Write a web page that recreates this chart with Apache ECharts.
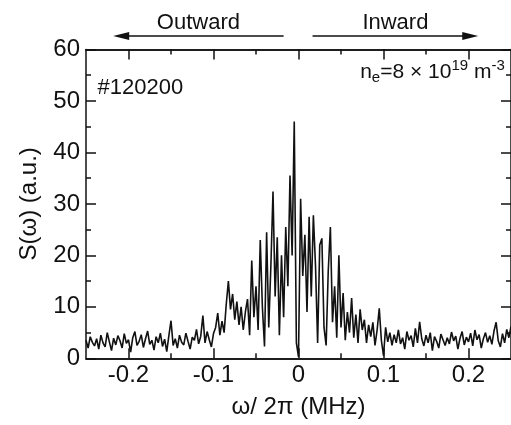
<!DOCTYPE html>
<html>
<head>
<meta charset="utf-8">
<script src="https://cdn.jsdelivr.net/npm/echarts@6/dist/echarts.min.js"></script>
<style>
html,body{margin:0;padding:0;background:#fff;}
#chart{width:511px;height:425px;}
</style>
</head>
<body>
<div id="chart"></div>
<script>
// Sample grid of the spectrum (MHz)
const freqStart = -0.25;
const freqStep = 0.0025;
// Spectral power S(omega), a.u., one value per sample
const spectrum = [
  3.5, 2.0, 4.2, 3.1, 2.4, 3.8, 1.8, 4.5, 3.0, 2.2,
  5.0, 3.2, 1.5, 3.9, 2.6, 4.4, 3.4, 2.0, 4.8, 2.9,
  3.6, 1.2, 4.0, 5.2, 2.5, 3.3, 4.6, 2.1, 3.8, 5.3,
  2.7, 3.5, 1.6, 4.2, 3.0, 4.9, 2.3, 3.7, 1.3, 4.4,
  7.3,
  2.5, 3.8, 2.0, 4.5, 3.1, 2.6, 4.9, 3.3, 1.8, 4.1,
  3.5, 5.6, 2.8, 4.3, 8.3, 3.0, 5.2, 3.6, 2.2, 4.8,
  6.0, 8.8, 4.5, 7.2, 5.0, 10.5, 15.0, 9.5, 12.5, 7.5,
  11.0, 6.5, 10.0, 5.5, 9.0, 11.5, 4.5, 19.0, 8.0, 14.0,
  5.5, 23.0, 10.0, 2.3, 24.5, 6.0, 18.0, 32.4, 12.0, 23.5,
  4.5, 20.0, 8.0, 25.5, 14.0, 35.5, 20.0, 46.0, 3.0, 0.3,
  31.0, 16.0, 24.0, 9.0, 27.5, 12.0, 27.8, 18.0, 3.0, 22.0,
  23.3, 6.0, 2.5, 17.0, 25.5, 7.0, 14.0, 4.0, 20.0, 6.0,
  12.7, 3.5, 9.0, 5.0, 11.7, 4.0, 8.5, 3.0, 9.5, 5.5,
  7.5, 3.0, 6.5, 4.2, 7.0, 2.5, 5.5, 9.7, 3.5, 0.5,
  6.0, 3.2, 5.0, 2.5, 4.6, 3.0, 5.5, 2.8, 4.0, 1.8,
  5.2, 3.5, 4.4, 2.2, 5.8, 3.0, 7.1, 3.8, 2.4, 4.5,
  3.0, 5.0, 1.5, 4.2, 3.3, 2.0, 4.7, 3.6, 2.5, 4.0,
  2.8, 5.1, 3.4, 4.3, 1.8, 3.9, 5.2, 2.6, 4.1, 3.2,
  4.9, 2.4, 5.5, 3.6, 4.6, 2.0, 3.8, 5.0, 3.1, 4.4,
  2.7, 5.3, 7.0, 3.4, 2.2, 4.8, 3.0, 5.6, 4.0, 6.2
];
// Axis ticks
const xMajorTicks = [-0.2, -0.1, 0, 0.1, 0.2];
const xMinorTicks = [-0.15, -0.05, 0.05, 0.15];
const xTickLabels = ['-0.2', '-0.1', '0', '0.1', '0.2'];
const yTickLabels = ['0', '10', '20', '30', '40', '50', '60'];
const shotLabel = '#120200';
const leftArrowLabel = 'Outward';
const rightArrowLabel = 'Inward';

const seriesData = spectrum.map((v, i) => [+(freqStart + i * freqStep).toFixed(4), v]);

const FONT = '"Liberation Sans", Arial, Helvetica, sans-serif';
const X_MIN = -0.25, X_MAX = 0.25;
const TICK_FS = 24;

function xAxisDef(pos, ticks, len, showLabel) {
  return {
    type: 'value', position: pos, min: X_MIN, max: X_MAX,
    axisLine: { show: true, onZero: false, lineStyle: { color: '#111', width: 1.5 } },
    axisTick: { show: true, inside: true, length: len, customValues: ticks, lineStyle: { color: '#111', width: 1.5 } },
    axisLabel: showLabel ? {
      show: true, customValues: xMajorTicks, margin: 5,
      color: '#111', fontFamily: FONT, fontSize: TICK_FS,
      formatter: v => { const k = xMajorTicks.findIndex(t => Math.abs(t - v) < 1e-9); return k >= 0 ? xTickLabels[k] : ''; }
    } : { show: false },
    splitLine: { show: false }
  };
}

const chart = echarts.init(document.getElementById('chart'), null, { renderer: 'canvas' });
const option = {
  animation: false,
  backgroundColor: '#fff',
  grid: { left: 86, top: 49.5, right: -8.3, bottom: 66.7, containLabel: false },
  xAxis: [
    Object.assign(xAxisDef('bottom', xMajorTicks, 10, true), {
      name: 'ω/ 2π (MHz)', nameLocation: 'middle', nameGap: 37,
      nameTextStyle: { color: '#111', fontFamily: FONT, fontSize: 24 }
    }),
    xAxisDef('bottom', xMinorTicks, 5, false),
    xAxisDef('top', xMajorTicks, 10, false),
    xAxisDef('top', xMinorTicks, 5, false)
  ],
  yAxis: [
    {
      type: 'value', position: 'left', min: 0, max: 60, interval: 10,
      name: 'S(ω) (a.u.)', nameLocation: 'middle', nameGap: 45,
      nameTextStyle: { color: '#111', fontFamily: FONT, fontSize: 24 },
      axisLine: { show: true, onZero: false, lineStyle: { color: '#111', width: 1.5 } },
      axisTick: { show: true, inside: true, length: 10, lineStyle: { color: '#111', width: 1.5 } },
      minorTick: { show: true, splitNumber: 2, length: 5, lineStyle: { color: '#111', width: 1.5 } },
      axisLabel: { color: '#111', fontFamily: FONT, fontSize: TICK_FS, margin: 6,
        formatter: v => yTickLabels[Math.round(v / 10)] },
      splitLine: { show: false }, minorSplitLine: { show: false }
    },
    {
      type: 'value', position: 'right', min: 0, max: 60, interval: 10,
      axisLine: { show: true, onZero: false, lineStyle: { color: '#111', width: 1.5 } },
      axisTick: { show: true, inside: true, length: 10, lineStyle: { color: '#111', width: 1.5 } },
      minorTick: { show: true, splitNumber: 2, length: 5, lineStyle: { color: '#111', width: 1.5 } },
      axisLabel: { show: false },
      splitLine: { show: false }, minorSplitLine: { show: false }
    }
  ],
  series: [{
    type: 'line', data: seriesData, xAxisIndex: 0, yAxisIndex: 0,
    showSymbol: false, symbol: 'none', smooth: false,
    lineStyle: { color: '#111', width: 1.6 }
  }]
};
chart.setOption(option);

// Annotations placed through the axes' own scales
const px = v => chart.convertToPixel({ xAxisIndex: 0 }, v);
const py = v => chart.convertToPixel({ yAxisIndex: 0 }, v);
const arrowY = 36;
function arrow(x1, x2) {
  const dir = x2 > x1 ? 1 : -1;
  return [
    { type: 'line', shape: { x1: x1, y1: arrowY, x2: x2 - dir * 10, y2: arrowY }, style: { stroke: '#111', lineWidth: 1.3 } },
    { type: 'polygon', shape: { points: [[x2, arrowY], [x2 - dir * 16, arrowY - 4], [x2 - dir * 16, arrowY + 4]] }, style: { fill: '#111' } }
  ];
}
const oL = px(-0.218), oR = px(-0.0175), iL = px(0.0165), iR = px(0.2115);
chart.setOption({
  graphic: [
    ...arrow(oR, oL),
    ...arrow(iL, iR),
    { type: 'text', x: (oL + oR) / 2, y: 23, style: { text: leftArrowLabel, fill: '#111', font: '22px ' + FONT, align: 'center', verticalAlign: 'middle' } },
    { type: 'text', x: (iL + iR) / 2, y: 23, style: { text: rightArrowLabel, fill: '#111', font: '22px ' + FONT, align: 'center', verticalAlign: 'middle' } },
    { type: 'text', x: px(-0.2365), y: py(52.6), style: { text: shotLabel, fill: '#111', font: '22px ' + FONT, align: 'left', verticalAlign: 'middle' } },
    { type: 'text', x: px(0.0725), y: py(55.6), style: {
        text: '{n|n}{s|e}{n|=8 × 10}{p|19}{n| m}{p|-3}',
        align: 'left', verticalAlign: 'middle',
        rich: {
          n: { fontFamily: FONT, fontSize: 21, fill: '#111', color: '#111' },
          s: { fontFamily: FONT, fontSize: 15, fill: '#111', color: '#111', padding: [11, 0, 0, 0] },
          p: { fontFamily: FONT, fontSize: 15, fill: '#111', color: '#111', padding: [0, 0, 13, 0] }
        }
      } }
  ]
});
</script>
</body>
</html>
